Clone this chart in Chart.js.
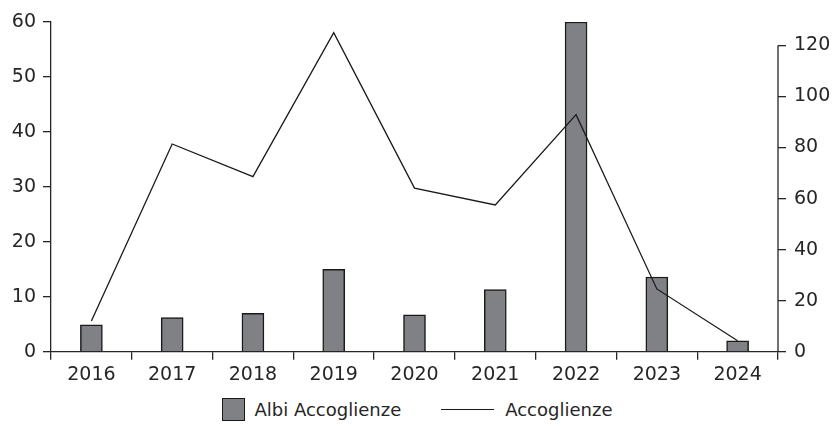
<!DOCTYPE html>
<html>
<head>
<meta charset="utf-8">
<script src="https://cdn.jsdelivr.net/npm/chart.js@4"></script>
<style>
  body { margin: 0; background: #fff; }
  #wrap { width: 834px; height: 390px; position: relative; }
  #legend {
    width: 834px; height: 38px; display: flex; justify-content: center; align-items: center;
    font-family: "DejaVu Sans", sans-serif; font-size: 18px; color: #262626; padding-left: 0;
  }
  .item { display: flex; align-items: center; }
  .box { width: 23px; height: 23px; background: #808185; border: 1.5px solid #1a1a1a; margin-right: 10px; box-sizing: border-box; }
  .line { width: 53px; height: 0; border-top: 1.3px solid #1a1a1a; margin-right: 11px; }
</style>
</head>
<body>
<div id="wrap"><canvas id="chart"></canvas></div>
<div id="legend">
  <div class="item"><div class="box"></div><span>Albi Accoglienze</span></div>
  <div class="item" style="margin-left:40px"><div class="line"></div><span>Accoglienze</span></div>
</div>
<script>
// dati
const anni = ['2016', '2017', '2018', '2019', '2020', '2021', '2022', '2023', '2024'];
const albiAccoglienze = [4.9, 6.2, 7.0, 15.0, 6.7, 11.3, 60, 13.6, 2.0];
const accoglienze = [12, 81.4, 68.6, 125, 64.1, 57.5, 92.9, 24.6, 4.3];
const tickDestra = [0, 20, 40, 60, 80, 100, 120];

const testo = '#262626';
const font = { family: 'DejaVu Sans', size: 19 };

// asse destro disegnato solo fino all'ultima etichetta
const assePlugin = {
  id: 'asseDestro',
  afterDraw(chart) {
    const s = chart.scales.y2;
    const ctx = chart.ctx;
    ctx.save();
    ctx.strokeStyle = testo;
    ctx.lineWidth = 1.3;
    ctx.beginPath();
    ctx.moveTo(s.left, s.getPixelForValue(0));
    ctx.lineTo(s.left, s.getPixelForValue(tickDestra[tickDestra.length - 1]));
    ctx.stroke();
    ctx.restore();
  }
};

const ctx = document.getElementById('chart').getContext('2d');
new Chart(ctx, {
  data: {
    labels: anni,
    datasets: [
      {
        type: 'line',
        label: 'Accoglienze',
        data: accoglienze,
        yAxisID: 'y2',
        borderColor: '#1a1a1a',
        borderWidth: 1.3,
        pointRadius: 0,
        tension: 0,
        order: 0
      },
      {
        type: 'bar',
        label: 'Albi Accoglienze',
        data: albiAccoglienze,
        yAxisID: 'y',
        backgroundColor: '#808185',
        borderColor: '#1a1a1a',
        borderWidth: 1.5,
        barThickness: 22,
        order: 1
      }
    ]
  },
  options: {
    responsive: true,
    maintainAspectRatio: false,
    animation: false,
    layout: { padding: { top: 22, right: 0, bottom: 0, left: 0 } },
    plugins: { legend: { display: false }, tooltip: { enabled: false } },
    scales: {
      x: {
        offset: true,
        afterFit(scale) { scale.height = 38.3; },
        grid: { offset: true, drawOnChartArea: false, tickLength: 8, color: testo, lineWidth: 1.3 },
        border: { color: testo, width: 1.3 },
        ticks: { color: testo, font: font, padding: 4, maxRotation: 0 }
      },
      y: {
        position: 'left',
        min: 0,
        max: 60,
        afterFit(scale) { scale.width = 51; },
        grid: { drawOnChartArea: false, tickLength: 8, color: testo, lineWidth: 1.3 },
        border: { color: testo, width: 1.3 },
        ticks: { stepSize: 10, color: testo, font: font, padding: 7 }
      },
      y2: {
        position: 'right',
        min: 0,
        max: 129.2,
        afterFit(scale) { scale.width = 56; },
        afterBuildTicks(scale) {
          scale.ticks = tickDestra.map(v => ({ value: v }));
        },
        grid: { drawOnChartArea: false, tickLength: 8, color: testo, lineWidth: 1.3 },
        border: { display: false },
        ticks: { color: testo, font: font, padding: 8 }
      }
    }
  },
  plugins: [assePlugin]
});
</script>
</body>
</html>
